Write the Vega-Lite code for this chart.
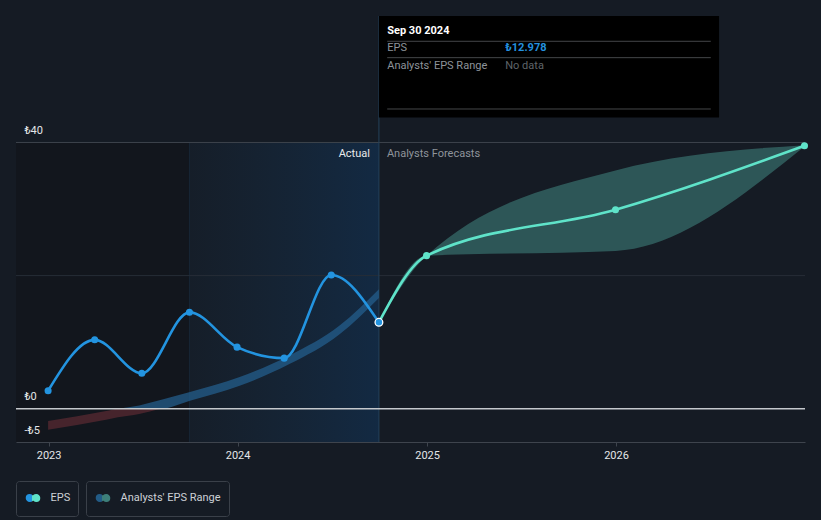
{
  "$schema": "https://vega.github.io/schema/vega-lite/v6.json",
  "width": 789,
  "height": 426,
  "autosize": "none",
  "padding": {"left": 16, "top": 16, "right": 16, "bottom": 78},
  "background": "#151b24",
  "config": {
    "view": {"stroke": null},
    "font": "Roboto",
    "legend": {
      "orient": "bottom",
      "direction": "horizontal",
      "offset": 21,
      "padding": 7.5,
      "strokeColor": "#3a4049",
      "cornerRadius": 3,
      "labelColor": "#cdd1d6",
      "labelFontSize": 11,
      "labelFont": "Roboto",
      "symbolOpacity": 1,
      "labelOffset": 8,
      "symbolOffset": 0
    }
  },
  "datasets": {
    "eps": [
      {"date": "2022-12-31", "eps": 2.7, "series": "Actual"},
      {"date": "2023-03-31", "eps": 10.35, "series": "Actual"},
      {"date": "2023-06-30", "eps": 5.33, "series": "Actual"},
      {"date": "2023-09-30", "eps": 14.48, "series": "Actual"},
      {"date": "2023-12-31", "eps": 9.25, "series": "Actual"},
      {"date": "2024-03-31", "eps": 7.6, "series": "Actual"},
      {"date": "2024-06-30", "eps": 20.09, "series": "Actual"},
      {"date": "2024-09-30", "eps": 12.978, "series": "Actual"},
      {"date": "2024-09-30", "eps": 12.978, "series": "Forecast"},
      {"date": "2024-12-31", "eps": 23.0, "series": "Forecast"},
      {"date": "2025-12-31", "eps": 29.9, "series": "Forecast"},
      {"date": "2026-12-31", "eps": 39.5, "series": "Forecast"}
    ],
    "bands": [
      {"date": "2022-12-31", "low": -3.15, "high": -1.85, "kind": "Negative"},
      {"date": "2023-04-22", "low": -1.65, "high": -0.35, "kind": "Negative"},
      {"date": "2023-05-15", "low": -1.3, "high": 0, "kind": "Negative"},
      {"date": "2023-06-25", "low": -0.8, "high": 0, "kind": "Negative"},
      {"date": "2023-08-05", "low": 0, "high": 0, "kind": "Negative"},
      {"date": "2023-05-15", "low": 0, "high": 0, "kind": "Past"},
      {"date": "2023-06-25", "low": 0, "high": 0.5, "kind": "Past"},
      {"date": "2023-08-05", "low": 0, "high": 1.3, "kind": "Past"},
      {"date": "2023-10-01", "low": 1.2, "high": 2.5, "kind": "Past"},
      {"date": "2024-01-05", "low": 3.45, "high": 4.75, "kind": "Past"},
      {"date": "2024-04-10", "low": 6.7, "high": 8.0, "kind": "Past"},
      {"date": "2024-07-16", "low": 11.2, "high": 12.5, "kind": "Past"},
      {"date": "2024-09-30", "low": 16.65, "high": 17.95, "kind": "Past"},
      {"date": "2024-09-30", "low": 12.978, "high": 12.978, "kind": "Forecast"},
      {"date": "2024-12-31", "low": 23.0, "high": 23.0, "kind": "Forecast"},
      {"date": "2025-12-31", "low": 23.7, "high": 35.8, "kind": "Forecast"},
      {"date": "2026-12-31", "low": 39.4, "high": 39.6, "kind": "Forecast"}
    ]
  },
  "layer": [
    {
      "data": {"name": "eps"},
      "transform": [{"filter": "false"}],
      "mark": {"type": "point", "filled": true},
      "encoding": {
        "x": {"field": "date", "type": "temporal",
          "scale": {"type": "utc", "domain": [{"year": 2022, "month": 10, "date": 30, "utc": true}, {"year": 2027, "month": 1, "date": 1, "utc": true}]},
          "axis": {"title": null, "format": "%Y", "grid": false, "zindex": 1,
            "values": [{"year": 2023, "month": 1, "date": 1, "utc": true}, {"year": 2024, "month": 1, "date": 1, "utc": true}, {"year": 2025, "month": 1, "date": 1, "utc": true}, {"year": 2026, "month": 1, "date": 1, "utc": true}],
            "domainColor": "#3e444d", "tickColor": "#3e444d", "tickSize": 4, "labelColor": "#e4e6e8", "labelFontSize": 11, "labelPadding": 3, "labelFont": "Roboto"}},
        "y": {"field": "eps", "type": "quantitative",
          "scale": {"domain": [-5, 59], "nice": false, "zero": false},
          "axis": {"title": null, "values": [-5, 0, 40], "labelExpr": "(datum.value < 0 ? '-₺' : '₺') + abs(datum.value)", "zindex": 1,
            "labelAlign": "left", "labelBaseline": "middle", "labelOffset": -12, "labelPadding": -8, "tickSize": 0, "ticks": false,
            "domain": false, "grid": false, "labelColor": "#e4e6e8", "labelFontSize": 11, "labelFont": "Roboto"}},
        "color": {"field": "series", "type": "nominal",
          "scale": {"domain": ["Actual", "Forecast"], "range": ["#2394e0", "#5fe3c9"]},
          "legend": {"title": null, "values": ["Forecast"], "labelExpr": "'EPS'",
            "symbolType": "M -0.724 0 A 0.274 0.274 0 1 0 -0.176 0 A 0.274 0.274 0 1 0 -0.724 0 Z M 0.176 0 A 0.274 0.274 0 1 0 0.724 0 A 0.274 0.274 0 1 0 0.176 0 Z",
            "symbolSize": 213,
            "encode": {"symbols": {"update": {
              "stroke": {"value": {"gradient": "linear", "x1": 0, "y1": 0, "x2": 1, "y2": 0, "stops": [{"offset": 0, "color": "#2394e0"}, {"offset": 0.43, "color": "#2394e0"}, {"offset": 0.43, "color": "#5fe3c9"}, {"offset": 1, "color": "#5fe3c9"}]}},
              "strokeWidth": {"value": 4}, "opacity": {"value": 1}}}}}}
      }
    },
    {
      "data": {"values": [{"start": "2022-10-30", "end": "2023-09-30", "lo": -5, "hi": 40}]},
      "mark": {"type": "rect", "color": "#12161d"},
      "encoding": {
        "x": {"field": "start", "type": "temporal", "scale": {"type": "utc", "domain": [{"year": 2022, "month": 10, "date": 30, "utc": true}, {"year": 2027, "month": 1, "date": 1, "utc": true}]}},
        "x2": {"field": "end"},
        "y": {"field": "lo", "type": "quantitative", "scale": {"domain": [-5, 59], "nice": false, "zero": false}},
        "y2": {"field": "hi"}
      }
    },
    {
      "data": {"values": [{"start": "2023-09-30", "end": "2024-09-30", "lo": -5, "hi": 40}]},
      "mark": {"type": "rect", "color": {"gradient": "linear", "x1": 0, "y1": 0, "x2": 1, "y2": 0,
        "stops": [{"offset": 0, "color": "rgba(30,100,160,0.04)"}, {"offset": 1, "color": "rgba(10,100,190,0.2)"}]}},
      "encoding": {
        "x": {"field": "start", "type": "temporal", "scale": {"type": "utc", "domain": [{"year": 2022, "month": 10, "date": 30, "utc": true}, {"year": 2027, "month": 1, "date": 1, "utc": true}]}},
        "x2": {"field": "end"},
        "y": {"field": "lo", "type": "quantitative", "scale": {"domain": [-5, 59], "nice": false, "zero": false}},
        "y2": {"field": "hi"}
      }
    },
    {
      "data": {"values": [{"date": "2023-09-30", "lo": -5, "hi": 40}]},
      "mark": {"type": "rule", "color": "#172536", "strokeWidth": 1},
      "encoding": {
        "x": {"field": "date", "type": "temporal", "scale": {"type": "utc", "domain": [{"year": 2022, "month": 10, "date": 30, "utc": true}, {"year": 2027, "month": 1, "date": 1, "utc": true}]}},
        "y": {"field": "lo", "type": "quantitative", "scale": {"domain": [-5, 59], "nice": false, "zero": false}},
        "y2": {"field": "hi"}
      }
    },
    {
      "data": {"values": [{"v": 20}]},
      "mark": {"type": "rule", "color": "#262d37", "strokeWidth": 1},
      "encoding": {
        "y": {"field": "v", "type": "quantitative", "scale": {"domain": [-5, 59], "nice": false, "zero": false}}
      }
    },
    {
      "data": {"values": [{"v": 40}]},
      "mark": {"type": "rule", "color": "#3d434c", "strokeWidth": 1},
      "encoding": {
        "y": {"field": "v", "type": "quantitative", "scale": {"domain": [-5, 59], "nice": false, "zero": false}}
      }
    },
    {
      "data": {"values": [{"date": "2024-09-30", "lo": -5, "hi": 59}]},
      "mark": {"type": "rule", "color": "#24405a", "strokeWidth": 1},
      "encoding": {
        "x": {"field": "date", "type": "temporal", "scale": {"type": "utc", "domain": [{"year": 2022, "month": 10, "date": 30, "utc": true}, {"year": 2027, "month": 1, "date": 1, "utc": true}]}},
        "y": {"field": "lo", "type": "quantitative", "scale": {"domain": [-5, 59], "nice": false, "zero": false}},
        "y2": {"field": "hi"}
      }
    },
    {
      "data": {"name": "bands"},
      "transform": [{"filter": "datum.kind == 'Negative'"}],
      "mark": {"type": "area", "interpolate": "monotone", "opacity": 0.72},
      "encoding": {
        "x": {"field": "date", "type": "temporal", "scale": {"type": "utc", "domain": [{"year": 2022, "month": 10, "date": 30, "utc": true}, {"year": 2027, "month": 1, "date": 1, "utc": true}]}},
        "y": {"field": "low", "type": "quantitative", "scale": {"domain": [-5, 59], "nice": false, "zero": false}},
        "y2": {"field": "high"},
        "fill": {"field": "kind", "type": "nominal",
          "scale": {"domain": ["Past", "Forecast", "Negative"], "range": ["#245f8f", "#3d7e79", "#5a2a32"]},
          "legend": {"title": null, "values": ["Forecast"], "labelExpr": "\"Analysts' EPS Range\"",
            "symbolType": "M -0.724 0 A 0.274 0.274 0 1 0 -0.176 0 A 0.274 0.274 0 1 0 -0.724 0 Z M 0.176 0 A 0.274 0.274 0 1 0 0.724 0 A 0.274 0.274 0 1 0 0.176 0 Z",
            "symbolSize": 213,
            "encode": {"symbols": {"update": {
              "stroke": {"value": {"gradient": "linear", "x1": 0, "y1": 0, "x2": 1, "y2": 0, "stops": [{"offset": 0, "color": "#225b86"}, {"offset": 0.43, "color": "#225b86"}, {"offset": 0.43, "color": "#3d7f7a"}, {"offset": 1, "color": "#3d7f7a"}]}},
              "strokeWidth": {"value": 4}, "opacity": {"value": 1}}}}}}
      }
    },
    {
      "data": {"name": "bands"},
      "transform": [{"filter": "datum.kind == 'Past'"}],
      "mark": {"type": "area", "interpolate": "monotone", "opacity": 0.72},
      "encoding": {
        "x": {"field": "date", "type": "temporal", "scale": {"type": "utc", "domain": [{"year": 2022, "month": 10, "date": 30, "utc": true}, {"year": 2027, "month": 1, "date": 1, "utc": true}]}},
        "y": {"field": "low", "type": "quantitative", "scale": {"domain": [-5, 59], "nice": false, "zero": false}},
        "y2": {"field": "high"},
        "fill": {"field": "kind", "type": "nominal",
          "scale": {"domain": ["Past", "Forecast", "Negative"], "range": ["#245f8f", "#3d7e79", "#5a2a32"]}}
      }
    },
    {
      "data": {"name": "bands"},
      "transform": [{"filter": "datum.kind == 'Forecast'"}],
      "mark": {"type": "area", "interpolate": "monotone", "opacity": 0.6},
      "encoding": {
        "x": {"field": "date", "type": "temporal", "scale": {"type": "utc", "domain": [{"year": 2022, "month": 10, "date": 30, "utc": true}, {"year": 2027, "month": 1, "date": 1, "utc": true}]}},
        "y": {"field": "low", "type": "quantitative", "scale": {"domain": [-5, 59], "nice": false, "zero": false}},
        "y2": {"field": "high"},
        "fill": {"field": "kind", "type": "nominal",
          "scale": {"domain": ["Past", "Forecast", "Negative"], "range": ["#245f8f", "#3d7e79", "#5a2a32"]}}
      }
    },
    {
      "data": {"values": [{"v": 0}]},
      "mark": {"type": "rule", "color": "#c4c8cc", "strokeWidth": 1.5},
      "encoding": {
        "y": {"field": "v", "type": "quantitative", "scale": {"domain": [-5, 59], "nice": false, "zero": false}}
      }
    },
    {
      "data": {"name": "eps"},
      "transform": [{"filter": "datum.series == 'Actual'"}],
      "mark": {"type": "line", "interpolate": "monotone", "strokeWidth": 2.6, "color": "#2394e0"},
      "encoding": {
        "x": {"field": "date", "type": "temporal", "scale": {"type": "utc", "domain": [{"year": 2022, "month": 10, "date": 30, "utc": true}, {"year": 2027, "month": 1, "date": 1, "utc": true}]}},
        "y": {"field": "eps", "type": "quantitative", "scale": {"domain": [-5, 59], "nice": false, "zero": false}}
      }
    },
    {
      "data": {"name": "eps"},
      "transform": [{"filter": "datum.series == 'Forecast'"}],
      "mark": {"type": "line", "interpolate": "monotone", "strokeWidth": 2.6, "color": "#5fe3c9"},
      "encoding": {
        "x": {"field": "date", "type": "temporal", "scale": {"type": "utc", "domain": [{"year": 2022, "month": 10, "date": 30, "utc": true}, {"year": 2027, "month": 1, "date": 1, "utc": true}]}},
        "y": {"field": "eps", "type": "quantitative", "scale": {"domain": [-5, 59], "nice": false, "zero": false}}
      }
    },
    {
      "data": {"name": "eps"},
      "mark": {"type": "point", "filled": true, "size": 50, "opacity": 1},
      "encoding": {
        "x": {"field": "date", "type": "temporal", "scale": {"type": "utc", "domain": [{"year": 2022, "month": 10, "date": 30, "utc": true}, {"year": 2027, "month": 1, "date": 1, "utc": true}]}},
        "y": {"field": "eps", "type": "quantitative", "scale": {"domain": [-5, 59], "nice": false, "zero": false}},
        "color": {"field": "series", "type": "nominal",
          "scale": {"domain": ["Actual", "Forecast"], "range": ["#2394e0", "#5fe3c9"]}}
      }
    },
    {
      "data": {"values": [{"date": "2024-09-30", "eps": 12.978}]},
      "mark": {"type": "point", "filled": true, "size": 60, "fill": "#2394e0", "stroke": "#ffffff", "strokeWidth": 1.3, "opacity": 1},
      "encoding": {
        "x": {"field": "date", "type": "temporal", "scale": {"type": "utc", "domain": [{"year": 2022, "month": 10, "date": 30, "utc": true}, {"year": 2027, "month": 1, "date": 1, "utc": true}]}},
        "y": {"field": "eps", "type": "quantitative", "scale": {"domain": [-5, 59], "nice": false, "zero": false}}
      }
    },
    {
      "data": {"values": [{"date": "2024-09-30", "v": 38.27, "label": "Actual"}]},
      "mark": {"type": "text", "align": "right", "baseline": "middle", "dx": -9, "fontSize": 11, "color": "#e8eaec"},
      "encoding": {
        "x": {"field": "date", "type": "temporal", "scale": {"type": "utc", "domain": [{"year": 2022, "month": 10, "date": 30, "utc": true}, {"year": 2027, "month": 1, "date": 1, "utc": true}]}},
        "y": {"field": "v", "type": "quantitative", "scale": {"domain": [-5, 59], "nice": false, "zero": false}},
        "text": {"field": "label"}
      }
    },
    {
      "data": {"values": [{"date": "2024-09-30", "v": 38.27, "label": "Analysts Forecasts"}]},
      "mark": {"type": "text", "align": "left", "baseline": "middle", "dx": 8, "fontSize": 11, "color": "#8f949b"},
      "encoding": {
        "x": {"field": "date", "type": "temporal", "scale": {"type": "utc", "domain": [{"year": 2022, "month": 10, "date": 30, "utc": true}, {"year": 2027, "month": 1, "date": 1, "utc": true}]}},
        "y": {"field": "v", "type": "quantitative", "scale": {"domain": [-5, 59], "nice": false, "zero": false}},
        "text": {"field": "label"}
      }
    },
    {
      "data": {"values": [{"start": "2024-09-30", "end": "2026-07-19", "lo": 43.75, "hi": 59}]},
      "mark": {"type": "rect", "color": "#000000"},
      "encoding": {
        "x": {"field": "start", "type": "temporal", "scale": {"type": "utc", "domain": [{"year": 2022, "month": 10, "date": 30, "utc": true}, {"year": 2027, "month": 1, "date": 1, "utc": true}]}},
        "x2": {"field": "end"},
        "y": {"field": "lo", "type": "quantitative", "scale": {"domain": [-5, 59], "nice": false, "zero": false}},
        "y2": {"field": "hi"}
      }
    },
    {
      "data": {"values": [
        {"start": "2024-10-16", "end": "2026-07-03", "v": 55.2},
        {"start": "2024-10-16", "end": "2026-07-03", "v": 52.74},
        {"start": "2024-10-16", "end": "2026-07-03", "v": 45.03}
      ]},
      "mark": {"type": "rule", "color": "#444649", "strokeWidth": 1},
      "encoding": {
        "x": {"field": "start", "type": "temporal", "scale": {"type": "utc", "domain": [{"year": 2022, "month": 10, "date": 30, "utc": true}, {"year": 2027, "month": 1, "date": 1, "utc": true}]}},
        "x2": {"field": "end"},
        "y": {"field": "v", "type": "quantitative", "scale": {"domain": [-5, 59], "nice": false, "zero": false}}
      }
    },
    {
      "data": {"values": [{"date": "2024-10-16", "v": 56.75, "label": "Sep 30 2024"}]},
      "mark": {"type": "text", "align": "left", "baseline": "middle", "fontSize": 11, "fontWeight": "bold", "color": "#ffffff"},
      "encoding": {
        "x": {"field": "date", "type": "temporal", "scale": {"type": "utc", "domain": [{"year": 2022, "month": 10, "date": 30, "utc": true}, {"year": 2027, "month": 1, "date": 1, "utc": true}]}},
        "y": {"field": "v", "type": "quantitative", "scale": {"domain": [-5, 59], "nice": false, "zero": false}},
        "text": {"field": "label"}
      }
    },
    {
      "data": {"values": [
        {"date": "2024-10-16", "v": 54.19, "label": "EPS"},
        {"date": "2024-10-16", "v": 51.49, "label": "Analysts' EPS Range"}
      ]},
      "mark": {"type": "text", "align": "left", "baseline": "middle", "fontSize": 11, "color": "#8d939a"},
      "encoding": {
        "x": {"field": "date", "type": "temporal", "scale": {"type": "utc", "domain": [{"year": 2022, "month": 10, "date": 30, "utc": true}, {"year": 2027, "month": 1, "date": 1, "utc": true}]}},
        "y": {"field": "v", "type": "quantitative", "scale": {"domain": [-5, 59], "nice": false, "zero": false}},
        "text": {"field": "label"}
      }
    },
    {
      "data": {"values": [{"date": "2025-06-01", "v": 54.19, "label": "₺12.978"}]},
      "mark": {"type": "text", "align": "left", "baseline": "middle", "fontSize": 11, "fontWeight": "bold", "color": "#2491df"},
      "encoding": {
        "x": {"field": "date", "type": "temporal", "scale": {"type": "utc", "domain": [{"year": 2022, "month": 10, "date": 30, "utc": true}, {"year": 2027, "month": 1, "date": 1, "utc": true}]}},
        "y": {"field": "v", "type": "quantitative", "scale": {"domain": [-5, 59], "nice": false, "zero": false}},
        "text": {"field": "label"}
      }
    },
    {
      "data": {"values": [{"date": "2025-06-01", "v": 51.49, "label": "No data"}]},
      "mark": {"type": "text", "align": "left", "baseline": "middle", "fontSize": 11, "color": "#5f6469"},
      "encoding": {
        "x": {"field": "date", "type": "temporal", "scale": {"type": "utc", "domain": [{"year": 2022, "month": 10, "date": 30, "utc": true}, {"year": 2027, "month": 1, "date": 1, "utc": true}]}},
        "y": {"field": "v", "type": "quantitative", "scale": {"domain": [-5, 59], "nice": false, "zero": false}},
        "text": {"field": "label"}
      }
    }
  ]
}
